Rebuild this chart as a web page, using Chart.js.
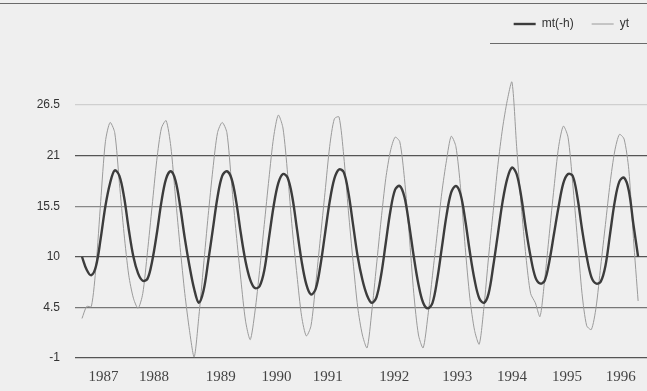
<!DOCTYPE html>
<html>
<head>
<meta charset="utf-8">
<script src="https://cdn.jsdelivr.net/npm/chart.js@4.4.1/dist/chart.umd.min.js"></script>
<style>
  html, body { margin: 0; padding: 0; background: #efefef; }
  #wrap { width: 647px; height: 391px; position: relative; }
</style>
</head>
<body>
<div id="wrap"><canvas id="c" width="647" height="391"></canvas></div>
<script>
// ---- data ----
const seriesNames = ['mt(-h)', 'yt'];
const yearLabels = ['1987','1988','1989','1990','1991','1992','1993','1994','1995','1996'];
const yearTickMonth = [4.6, 15.4, 29.7, 41.6, 52.6, 66.8, 80.3, 92, 103.8, 115.3];
const yTicks = [-1, 4.5, 10, 15.5, 21, 26.5];

const mt = [
  10, 8.6, 8.0, 9.0, 12.0, 15.5, 18.0, 19.4, 18.8, 16.5, 13.0, 10.0,
  8.2, 7.4, 7.6, 9.5, 12.5, 16.0, 18.5, 19.3, 18.3, 15.5, 12.0, 9.0,
  6.5, 5.0, 6.3, 9.5, 13.0, 16.5, 18.8, 19.3, 18.5, 16.0, 12.5, 9.5,
  7.5, 6.6, 6.8, 8.5, 12.0, 15.5, 18.0, 19.0, 18.6, 16.5, 13.0, 9.5,
  7.0, 5.9, 6.5, 9.0, 12.5, 16.0, 18.5, 19.5, 19.2, 17.0, 13.5, 10.0,
  7.5, 5.8, 5.0, 5.6, 8.0, 11.5, 15.0, 17.3, 17.7, 16.5, 13.5, 10.0,
  7.0, 5.0, 4.4, 5.0, 7.5, 11.0, 14.5, 17.0, 17.7, 16.8, 14.0, 10.5,
  7.5, 5.5, 5.0, 6.0, 9.0, 12.5, 16.0, 18.5, 19.7, 19.0, 16.5, 13.0,
  10.0, 7.8, 7.1, 7.4, 9.5, 12.5, 15.5, 18.0, 19.0, 18.8, 16.5, 13.0,
  10.0, 7.8, 7.1, 7.3, 9.0, 12.5, 16.0, 18.2, 18.6, 17.2, 13.5, 10.0
];
const yt = [
  3.3, 4.6, 4.6, 9.0, 16.0, 22.5, 24.6, 23.5, 18.0, 12.5, 8.0, 5.5,
  4.4, 6.0, 10.5, 15.5, 20.5, 24.0, 24.8, 22.0, 16.5, 11.0, 6.0, 2.0,
  -0.9, 3.5, 9.0, 14.5, 19.5, 23.5, 24.6, 23.5, 18.0, 12.5, 7.5, 3.0,
  1.0, 4.0, 8.5, 13.5, 18.5, 23.0, 25.4, 24.0, 19.0, 13.0, 8.0, 3.5,
  1.4, 2.5, 7.0, 12.0, 17.0, 22.0, 25.0, 25.2, 21.0, 15.0, 9.5, 4.5,
  1.5, 0.1, 4.0, 9.0, 14.0, 18.5, 21.5, 23.0, 22.5, 18.5, 12.5, 6.0,
  1.5, 0.1, 3.5, 8.0, 12.5, 17.0, 20.5, 23.1, 22.0, 17.5, 11.0, 5.5,
  2.0, 0.5, 4.5, 10.0, 15.0, 20.0, 24.0, 27.0, 29.0, 22.0, 15.5, 10.0,
  6.0, 5.0, 3.5, 7.5, 12.5, 17.5, 22.0, 24.2, 23.0, 18.0, 12.0, 6.0,
  2.5, 2.1, 4.5, 9.0, 13.5, 18.0, 21.5, 23.3, 22.8, 19.5, 12.0, 5.2
];

// ---- chart ----
const toPoints = arr => arr.map((v, i) => ({ x: i, y: v }));

const decor = {
  id: 'decor',
  beforeDraw(chart) {
    const ctx = chart.ctx;
    ctx.save();
    ctx.strokeStyle = '#6a6a6a';
    ctx.lineWidth = 1.2;
    ctx.beginPath(); ctx.moveTo(0, 3.5); ctx.lineTo(647, 3.5); ctx.stroke();
    ctx.beginPath(); ctx.moveTo(490, 43.5); ctx.lineTo(647, 43.5); ctx.stroke();
    ctx.restore();
  }
};

const gridColors = { '-1': '#555', '4.5': '#777', '10': '#555', '15.5': '#888', '21': '#555', '26.5': '#cfcfcf' };

new Chart(document.getElementById('c'), {
  type: 'line',
  data: {
    datasets: [
      {
        label: seriesNames[0],
        data: toPoints(mt),
        borderColor: '#3c3c3c',
        borderWidth: 2.4,
        pointRadius: 0,
        tension: 0.35,
        clip: false,
        order: 0
      },
      {
        label: seriesNames[1],
        data: toPoints(yt),
        borderColor: '#9a9a9a',
        borderWidth: 1,
        pointRadius: 0,
        tension: 0.25,
        clip: false,
        order: 1
      }
    ]
  },
  options: {
    responsive: false,
    animation: false,
    layout: { padding: { left: 0, right: 0, top: 0, bottom: 0 } },
    plugins: {
      tooltip: { enabled: false },
      legend: {
        display: true,
        position: 'top',
        align: 'end',
        weight: 3000,
        labels: {
          usePointStyle: true,
          pointStyle: 'line',
          pointStyleWidth: 22,
          padding: 18,
          color: '#333',
          font: { family: "'Liberation Sans Narrow', 'Liberation Sans', sans-serif", size: 12 }
        }
      },
      title: {
        display: true,
        text: '',
        weight: 100,
        font: { size: 10, lineHeight: 1 },
        padding: { top: 0, bottom: 55 }
      }
    },
    scales: {
      x: {
        type: 'linear',
        min: -1.5,
        max: 120.9,
        grid: { display: false, drawTicks: false },
        border: { display: false },
        afterBuildTicks(scale) {
          scale.ticks = yearTickMonth.map(v => ({ value: v }));
        },
        afterFit(scale) { scale.height = 33; },
        ticks: {
          autoSkip: false,
          maxRotation: 0,
          padding: 10,
          color: '#444',
          font: { family: "'Liberation Serif', 'DejaVu Serif', serif", size: 15 },
          callback(value, index) { return yearLabels[index]; }
        }
      },
      y: {
        type: 'linear',
        min: -1,
        max: 26.5,
        afterBuildTicks(scale) {
          scale.ticks = yTicks.map(v => ({ value: v }));
        },
        afterFit(scale) { scale.width = 75; },
        border: { display: false },
        grid: {
          drawTicks: false,
          lineWidth: 1.3,
          color: ctx => gridColors[String(ctx.tick && ctx.tick.value)] || '#777'
        },
        ticks: {
          padding: 15,
          color: '#333',
          font: { family: "'Liberation Sans Narrow', 'Liberation Sans', sans-serif", size: 12 },
          callback(value) { return String(value); }
        }
      }
    }
  },
  plugins: [decor]
});
</script>
</body>
</html>
